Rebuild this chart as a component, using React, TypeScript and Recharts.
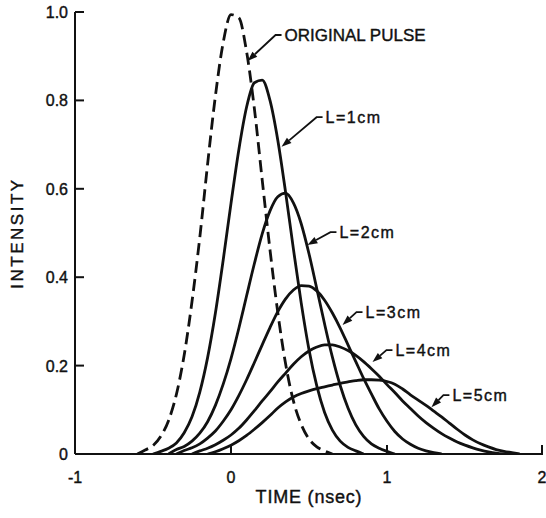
import { LineChart, Line, XAxis, YAxis, ReferenceLine, Label } from 'recharts';

const _ = null;

// time axis (nsec)
const times = [
  -0.7, -0.65, -0.6, -0.55, -0.5, -0.45, -0.4, -0.35, -0.3, -0.25, -0.2, -0.15, -0.1, -0.05,
  0, 0.05, 0.1, 0.15, 0.2, 0.25, 0.3, 0.35, 0.4, 0.45, 0.5, 0.55, 0.6, 0.65, 0.7, 0.75, 0.8,
  0.85, 0.9, 0.95, 1, 1.05, 1.1, 1.15, 1.2, 1.25, 1.3, 1.35, 1.4, 1.45, 1.5, 1.55, 1.6, 1.65,
  1.7, 1.75, 1.8, 1.85, 1.9,
];

const originalPulse = [
  _, _, 0, 0.009, 0.019, 0.04, 0.076, 0.135, 0.224, 0.345, 0.49, 0.656, 0.81, 0.931,
  0.994, 0.987, 0.91, 0.781, 0.62, 0.462, 0.32, 0.204, 0.12, 0.067, 0.034, 0.016, 0.007, 0, _, _, _,
  _, _, _, _, _, _, _, _, _, _, _, _, _, _, _, _, _,
  _, _, _, _, _,
];

const l1cm = [
  _, _, _, _, 0, 0.006, 0.013, 0.025, 0.048, 0.084, 0.14, 0.218, 0.319, 0.439,
  0.567, 0.688, 0.785, 0.84, 0.846, 0.8, 0.71, 0.592, 0.464, 0.342, 0.236, 0.154, 0.094, 0.054, 0.029, 0.015, 0.007,
  0, _, _, _, _, _, _, _, _, _, _, _, _, _, _, _, _,
  _, _, _, _, _,
];

const l2cm = [
  _, _, _, _, _, _, 0, 0.01, 0.017, 0.029, 0.047, 0.073, 0.11, 0.158,
  0.216, 0.284, 0.358, 0.431, 0.498, 0.55, 0.582, 0.59, 0.568, 0.521, 0.453, 0.374, 0.294, 0.219, 0.155, 0.104, 0.066,
  0.04, 0.023, 0.013, 0.006, 0, _, _, _, _, _, _, _, _, _, _, _, _,
  _, _, _, _, _,
];

const l3cm = [
  _, _, _, _, _, _, _, 0, 0.008, 0.014, 0.023, 0.036, 0.052, 0.074,
  0.1, 0.132, 0.168, 0.207, 0.247, 0.286, 0.322, 0.351, 0.371, 0.381, 0.38, 0.369, 0.348, 0.319, 0.285, 0.247, 0.209,
  0.171, 0.136, 0.102, 0.074, 0.051, 0.034, 0.022, 0.013, 0.007, 0.003, 0, _, _, _, _, _, _,
  _, _, _, _, _,
];

const l4cm = [
  _, _, _, _, _, _, _, _, _, 0, 0.007, 0.013, 0.021, 0.031,
  0.043, 0.058, 0.077, 0.098, 0.12, 0.141, 0.163, 0.183, 0.203, 0.22, 0.233, 0.242, 0.247, 0.247, 0.242, 0.234, 0.223,
  0.209, 0.193, 0.176, 0.157, 0.139, 0.12, 0.103, 0.086, 0.071, 0.058, 0.046, 0.036, 0.027, 0.02, 0.014, 0.009, 0.005,
  0.002, 0, _, _, _,
];

const l5cm = [
  _, _, _, _, _, _, _, _, _, _, _, 0, 0.005, 0.012,
  0.02, 0.03, 0.042, 0.056, 0.071, 0.087, 0.104, 0.118, 0.129, 0.137, 0.143, 0.148, 0.152, 0.156, 0.16, 0.163, 0.166,
  0.168, 0.168, 0.167, 0.164, 0.158, 0.147, 0.134, 0.122, 0.11, 0.097, 0.084, 0.07, 0.056, 0.043, 0.032, 0.023, 0.016,
  0.01, 0.006, 0.003, 0, _,
];

const xTicks = [-1, 0, 1, 2];
const yTicks = [0, 0.2, 0.4, 0.6, 0.8, 1.0];

// callouts: text anchor -> arrow tip, in data units
const notes = [
  { text: 'ORIGINAL PULSE', x: 0.324, y: 0.948, tipX: 0.106, tipY: 0.889, size: 17, spacing: 0 },
  { text: 'L=1cm', x: 0.587, y: 0.762, tipX: 0.324, tipY: 0.695, size: 16, spacing: 1.5 },
  { text: 'L=2cm', x: 0.676, y: 0.502, tipX: 0.49, tipY: 0.473, size: 16, spacing: 1.5 },
  { text: 'L=3cm', x: 0.843, y: 0.321, tipX: 0.715, tipY: 0.292, size: 16, spacing: 1.5 },
  { text: 'L=4cm', x: 1.035, y: 0.235, tipX: 0.907, tipY: 0.208, size: 16, spacing: 1.5 },
  { text: 'L=5cm', x: 1.4, y: 0.133, tipX: 1.285, tipY: 0.106, size: 16, spacing: 1.5 },
];

const data = times.map((t, i) => ({
  t,
  orig: originalPulse[i],
  l1: l1cm[i],
  l2: l2cm[i],
  l3: l3cm[i],
  l4: l4cm[i],
  l5: l5cm[i],
}));

const INK = '#111';
const FONT = '"Liberation Sans", Arial, Helvetica, sans-serif';

const XTick = ({ x, y, payload }: any) => (
  <g>
    {payload.value !== -1 && (
      <line x1={x} y1={y} x2={x} y2={y - 9} stroke={INK} strokeWidth={2} />
    )}
    <text
      x={x}
      y={y + 29}
      textAnchor="middle"
      fontFamily={FONT}
      fontSize={16}
      fill={INK}
      stroke={INK}
      strokeWidth={0.4}
    >
      {payload.value}
    </text>
  </g>
);

const YTick = ({ x, y, payload }: any) => (
  <g>
    {payload.value !== 0 && (
      <line x1={x} y1={y} x2={x + 9} y2={y} stroke={INK} strokeWidth={2} />
    )}
    <text
      x={x - 7}
      y={y + 6}
      textAnchor="end"
      fontFamily={FONT}
      fontSize={16}
      fill={INK}
      stroke={INK}
      strokeWidth={0.4}
    >
      {payload.value === 0 ? '0' : payload.value.toFixed(1)}
    </text>
  </g>
);

const leader = (p: any, note: (typeof notes)[number]) => {
  const { x1, y1, x2, y2 } = p;
  const bx = x1 - 6;
  const dx = x2 - bx;
  const dy = y2 - y1;
  const len = Math.hypot(dx, dy) || 1;
  const ux = dx / len;
  const uy = dy / len;
  const hx = x2 - ux * 10;
  const hy = y2 - uy * 10;
  return (
    <g>
      <path d={`M${x1},${y1} L${bx},${y1} L${hx},${hy}`} fill="none" stroke={INK} strokeWidth={1.8} />
      <polygon
        points={`${x2},${y2} ${hx - uy * 3.5},${hy + ux * 3.5} ${hx + uy * 3.5},${hy - ux * 3.5}`}
        fill={INK}
      />
      <text
        x={x1 + 3}
        y={y1 + 6}
        fontFamily={FONT}
        fontSize={note.size}
        letterSpacing={note.spacing}
        fill={INK}
        stroke={INK}
        strokeWidth={0.4}
      >
        {note.text}
      </text>
    </g>
  );
};

const App = () => {
  return (
    <div style={{ position: 'absolute', left: 0, top: 0, background: '#fff' }}>
      <LineChart width={546} height={518} data={data} margin={{ top: 12, right: 3, left: 0, bottom: 0 }}>
        <XAxis
          dataKey="t"
          type="number"
          domain={[-1, 2]}
          ticks={xTicks}
          height={64}
          axisLine={{ stroke: INK, strokeWidth: 2 }}
          tickLine={false}
          tickSize={0}
          tickMargin={0}
          tick={<XTick />}
          allowDataOverflow
        >
          <Label
            value="TIME (nsec)"
            position="insideBottom"
            offset={15}
            style={{ fill: INK, stroke: INK, strokeWidth: 0.4, fontFamily: FONT, fontSize: 18, letterSpacing: 0.8 }}
          />
        </XAxis>
        <YAxis
          type="number"
          domain={[0, 1]}
          ticks={yTicks}
          width={75}
          axisLine={{ stroke: INK, strokeWidth: 2 }}
          tickLine={false}
          tickSize={0}
          tickMargin={0}
          tick={<YTick />}
          allowDataOverflow
        >
          <Label
            value="INTENSITY"
            angle={-90}
            position="insideLeft"
            offset={17}
            style={{
              fill: INK,
              stroke: INK,
              strokeWidth: 0.4,
              fontFamily: FONT,
              fontSize: 17,
              letterSpacing: 2.5,
              textAnchor: 'middle',
            }}
          />
        </YAxis>
        <Line
          dataKey="orig"
          type="monotone"
          stroke={INK}
          strokeWidth={2.8}
          strokeDasharray="12 6"
          dot={false}
          isAnimationActive={false}
        />
        {['l1', 'l2', 'l3', 'l4', 'l5'].map((k) => (
          <Line
            key={k}
            dataKey={k}
            type="monotone"
            stroke={INK}
            strokeWidth={2.8}
            dot={false}
            isAnimationActive={false}
          />
        ))}
        {notes.map((n) => (
          <ReferenceLine
            key={n.text}
            segment={[
              { x: n.x, y: n.y },
              { x: n.tipX, y: n.tipY },
            ]}
            ifOverflow="visible"
            shape={(p: any) => leader(p, n)}
          />
        ))}
      </LineChart>
    </div>
  );
};

export default App;
